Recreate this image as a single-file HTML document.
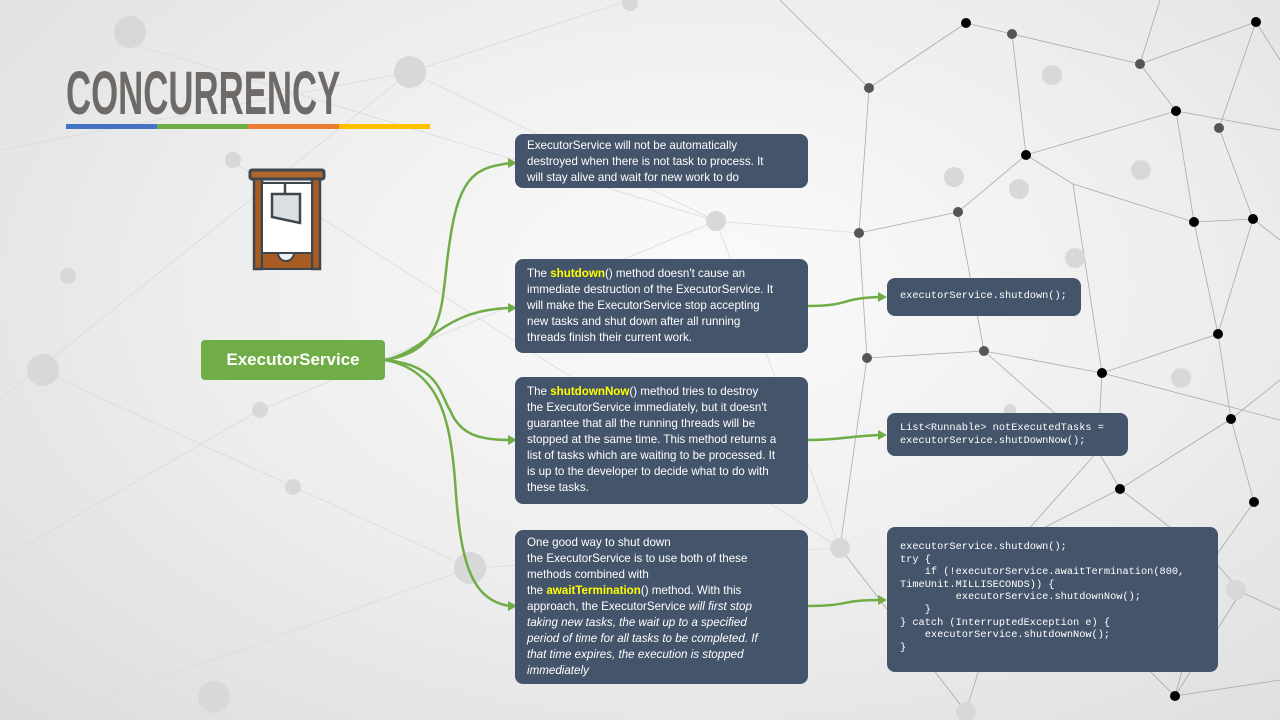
<!DOCTYPE html>
<html><head><meta charset="utf-8"><style>
body{margin:0;width:1280px;height:720px;overflow:hidden;position:relative;font-family:"Liberation Sans",sans-serif;background:radial-gradient(ellipse at 55% 40%,#fbfbfb 0%,#ececec 55%,#dcdcdc 100%);}
.box{position:absolute;background:#44546a;border-radius:8px;color:#fff;font-size:11.6px;line-height:16px;padding:7px 12px 4px;box-sizing:border-box;white-space:nowrap;}
.box b{color:#ffff00;}
.code{position:absolute;background:#44546a;border-radius:8px;color:#fff;font-family:"Liberation Mono",monospace;font-size:10.3px;line-height:12.6px;padding:0 13px;box-sizing:border-box;white-space:pre;}
svg{position:absolute;left:0;top:0;}
</style></head><body>
<svg width="1280" height="720">
<g stroke="#999" stroke-width="0.8" fill="none" opacity="0.8">
<path d="M966 23L1012 34L1140 64L1256 22M966 23L869 88L859 233L867 358L984 351L1102 373L1218 334L1253 219L1194 222L1176 111L1140 64M1026 155L1176 111M1026 155L958 212L859 233M1026 155L1073 184L1194 222M958 212L984 351M1073 184L1102 373M1194 222L1218 334M1102 373L1098 451L1120 489L1231 419L1218 334M1120 489L1213 560L1254 502L1231 419M1213 560L1241 592L1175 696M1018 541L1120 489M1018 541L1098 451M1018 541L1175 696M867 358L840 548L966 712M1219 128L1256 22M1219 128L1253 219M1012 34L1026 155M869 88L780 0M1140 64L1160 0M984 351L1098 451M1102 373L1280 420M1256 22L1280 60M1253 219L1280 240M1176 111L1280 130M1231 419L1280 380M1241 592L1280 610M1175 696L1280 680M966 712L1018 541M1175 696L1213 560"/>
</g>
<g stroke="#dadada" stroke-width="0.8" fill="none">
<path d="M0 150L410 72L716 221L859 233M0 400L410 72M120 40L716 221L840 548M0 560L260 410L716 221M100 700L470 568L840 548M230 160L840 548M40 370L470 568M410 72L630 0"/>
</g>
<g fill="#d8d8d8"><circle cx="410" cy="72" r="16"/><circle cx="130" cy="32" r="16"/><circle cx="716" cy="221" r="10"/><circle cx="43" cy="370" r="16"/><circle cx="470" cy="568" r="16"/><circle cx="214" cy="697" r="16"/><circle cx="840" cy="548" r="10"/><circle cx="260" cy="410" r="8"/><circle cx="233" cy="160" r="8"/><circle cx="68" cy="276" r="8"/><circle cx="1052" cy="75" r="10"/><circle cx="954" cy="177" r="10"/><circle cx="1019" cy="189" r="10"/><circle cx="1141" cy="170" r="10"/><circle cx="1075" cy="258" r="10"/><circle cx="1181" cy="378" r="10"/><circle cx="1236" cy="590" r="10"/><circle cx="966" cy="712" r="10"/><circle cx="1010" cy="410" r="6"/><circle cx="293" cy="487" r="8"/><circle cx="630" cy="3" r="8"/></g>
<g fill="#555"><circle cx="1012" cy="34" r="5"/><circle cx="869" cy="88" r="5"/><circle cx="958" cy="212" r="5"/><circle cx="859" cy="233" r="5"/><circle cx="867" cy="358" r="5"/><circle cx="984" cy="351" r="5"/><circle cx="1098" cy="451" r="5"/><circle cx="1219" cy="128" r="5"/><circle cx="1018" cy="541" r="5"/><circle cx="1140" cy="64" r="5"/></g>
<g fill="#000"><circle cx="966" cy="23" r="5"/><circle cx="1256" cy="22" r="5"/><circle cx="1176" cy="111" r="5"/><circle cx="1026" cy="155" r="5"/><circle cx="1194" cy="222" r="5"/><circle cx="1253" cy="219" r="5"/><circle cx="1218" cy="334" r="5"/><circle cx="1102" cy="373" r="5"/><circle cx="1231" cy="419" r="5"/><circle cx="1120" cy="489" r="5"/><circle cx="1254" cy="502" r="5"/><circle cx="1213" cy="560" r="5"/><circle cx="1175" cy="696" r="5"/></g>
<g stroke="#70ad47" stroke-width="2.5" fill="none">
<path d="M385 360C450 350 440 300 450 240C460 170 480 168 510 163"/>
<path d="M385 360C430 350 440 310 510 308"/>
<path d="M385 360C440 365 440 395 450 410C460 435 480 440 510 440"/>
<path d="M385 360C440 370 450 420 455 480C460 560 470 600 510 606"/>
<path d="M808 306C850 306 840 298 880 297"/>
<path d="M808 440C840 440 850 436 880 435"/>
<path d="M808 606C850 606 840 600 880 600"/>
</g>
<g fill="#70ad47"><path d="M517 163l-9-5v10z"/><path d="M517 308l-9-5v10z"/><path d="M517 440l-9-5v10z"/><path d="M517 606l-9-5v10z"/><path d="M887 297l-9-5v10z"/><path d="M887 435l-9-5v10z"/><path d="M887 600l-9-5v10z"/></g>
<g>
<rect x="250" y="170" width="74" height="9" rx="2" fill="#b0672b" stroke="#3c474f" stroke-width="3"/>
<rect x="254" y="179" width="8" height="90" fill="#a85c24" stroke="#3c474f" stroke-width="2.5"/>
<rect x="312" y="179" width="8" height="90" fill="#a85c24" stroke="#3c474f" stroke-width="2.5"/>
<rect x="262" y="183" width="50" height="70" fill="#fff" stroke="#3c474f" stroke-width="2"/>
<path d="M285 183v11M272 194h28v29l-28-6z" fill="#dcdfe2" stroke="#3c474f" stroke-width="2.5"/>
<path d="M262 253h16a8 8 0 0 0 16 0h18v16h-50z" fill="#a85c24" stroke="#3c474f" stroke-width="2"/>
</g>
</svg>
<div style="position:absolute;left:66px;top:59px;font-family:'Liberation Sans Narrow','Liberation Sans',sans-serif;font-weight:bold;font-size:61px;line-height:68px;color:#6e6a68;transform:scaleX(0.57);transform-origin:left;white-space:nowrap;">CONCURRENCY</div>
<div style="position:absolute;left:66px;top:124px;width:364px;height:5px;background:linear-gradient(90deg,#4472c4 25%,#70ad47 25% 50%,#ed7d31 50% 75%,#ffc000 75%);"></div>
<div style="position:absolute;left:201px;top:340px;width:184px;height:40px;background:#70ad47;border-radius:4px;color:#fff;font-weight:bold;font-size:17px;line-height:40px;text-align:center;">ExecutorService</div>
<div class="box" style="left:515px;top:134px;width:293px;height:54px;padding-top:4px;">ExecutorService will not be automatically<br>destroyed when there is not task to process. It<br>will stay alive and wait for new work to do</div>
<div class="box" style="left:515px;top:259px;width:293px;height:94px;">The <b>shutdown</b>() method doesn't cause an<br>immediate destruction of the ExecutorService. It<br>will make the ExecutorService stop accepting<br>new tasks and shut down after all running<br>threads finish their current work.</div>
<div class="box" style="left:515px;top:377px;width:293px;height:127px;">The <b>shutdownNow</b>() method tries to destroy<br>the ExecutorService immediately, but it doesn't<br>guarantee that all the running threads will be<br>stopped at the same time. This method returns a<br>list of tasks which are waiting to be processed. It<br>is up to the developer to decide what to do with<br>these tasks.</div>
<div class="box" style="left:515px;top:530px;width:293px;height:154px;padding-top:5px;">One good way to shut down<br>the ExecutorService is to use both of these<br>methods combined with<br>the <b>awaitTermination</b>() method. With this<br>approach, the ExecutorService <i>will first stop<br>taking new tasks, the wait up to a specified<br>period of time for all tasks to be completed. If<br>that time expires, the execution is stopped<br>immediately</i></div>
<div class="code" style="left:887px;top:278px;width:194px;height:38px;padding-top:12px;">executorService.shutdown();</div>
<div class="code" style="left:887px;top:413px;width:241px;height:43px;padding-top:9px;">List&lt;Runnable&gt; notExecutedTasks =
executorService.shutDownNow();</div>
<div class="code" style="left:887px;top:527px;width:331px;height:145px;padding-top:14px;">executorService.shutdown();
try {
    if (!executorService.awaitTermination(800,
TimeUnit.MILLISECONDS)) {
         executorService.shutdownNow();
    }
} catch (InterruptedException e) {
    executorService.shutdownNow();
}</div>
</body></html>
